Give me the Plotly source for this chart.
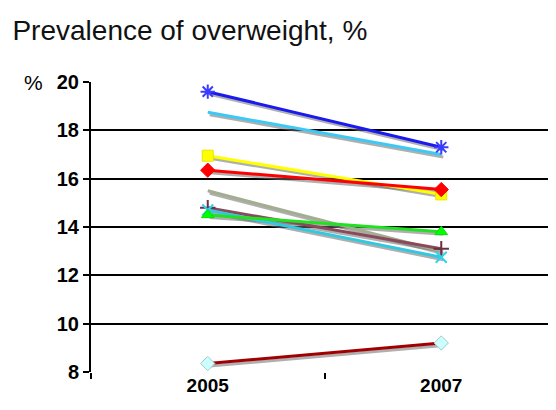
import plotly.graph_objects as go

# ---- data ----
years = ["2005", "2007"]
x_pos = [0, 1]
blue = [19.6, 17.3]
cyan = [18.75, 17.0]
yellow = [16.95, 15.35]
red = [16.35, 15.55]
sage = [15.5, 13.0]
maroon = [14.8, 13.1]
teal = [14.7, 12.75]
green = [14.5, 13.8]
darkred = [8.35, 9.2]
y_ticks = [8, 10, 12, 14, 16, 18, 20]

W, H = 556, 410
ML, MR, MT, MB = 83, 6, 74, 46
XR = [-0.5, 1.5]
YR = [8, 20]
px_x = (XR[1] - XR[0]) / (W - ML - MR)
px_y = (YR[1] - YR[0]) / (H - MT - MB)

series = [
    # values, line color, marker symbol, marker color, marker size, marker line color
    (sage, "#A3AD90", None, None, 0, None),
    (cyan, "#3DC8F5", None, None, 0, None),
    (blue, "#1A1AF0", "asterisk-open", "#3B3BFF", 12, "#3B3BFF"),
    (yellow, "#FFFF00", "square", "#FFFF00", 11, "#E6E600"),
    (red, "#FF0000", "diamond", "#FF0000", 11, "#FF0000"),
    (maroon, "#8A4A5A", "cross-thin-open", "#6B3040", 11, "#6B3040"),
    (teal, "#33C8E0", "x-thin-open", "#2FD0F0", 11, "#2FD0F0"),
    (green, "#22E022", "triangle-up", "#00FF00", 11, "#00E000"),
    (darkred, "#A00000", "diamond", "#CCFFFF", 11, "#A8C8C8"),
]

fig = go.Figure()

# shadows
for vals, lc, sym, mc, ms, mlc in series:
    fig.add_trace(go.Scatter(
        x=[v + 2 * px_x for v in x_pos], y=[v - 2.5 * px_y for v in vals],
        mode="lines", line=dict(color="rgba(110,110,110,0.55)", width=3),
        hoverinfo="skip", showlegend=False))

for vals, lc, sym, mc, ms, mlc in series:
    if sym is None:
        fig.add_trace(go.Scatter(x=x_pos, y=vals, mode="lines",
                                 line=dict(color=lc, width=3), showlegend=False))
    else:
        open_sym = sym.endswith("-open")
        fig.add_trace(go.Scatter(
            x=x_pos, y=vals, mode="lines+markers",
            line=dict(color=lc, width=3),
            marker=dict(symbol=sym, size=ms, color=mc,
                        line=dict(color=mlc, width=2 if open_sym else 1)),
            showlegend=False))

fig.update_layout(
    width=W, height=H,
    margin=dict(l=ML, r=MR, t=MT, b=MB),
    paper_bgcolor="white", plot_bgcolor="white",
    title=dict(text="Prevalence of overweight, %", x=0.008, xanchor="left",
               xref="container", y=0.945, yanchor="middle", yref="container",
               font=dict(family="Arial, Liberation Sans", size=28, color="#111111")),
    font=dict(family="Arial, Liberation Sans", color="black"),
)

fig.update_xaxes(
    range=XR, tickvals=x_pos, ticktext=years, ticks="", showgrid=False,
    zeroline=False, showline=False,
    tickfont=dict(family="Arial, Liberation Sans", size=19, color="black", weight="bold"),
    minor=dict(tickmode="array", tickvals=[-0.5, 0.5, 1.5], ticks="outside",
               ticklen=6, tickwidth=2, tickcolor="black", showgrid=False),
)
fig.update_yaxes(
    range=YR, tickvals=y_ticks, ticks="outside", ticklen=6, tickwidth=2,
    tickcolor="black", showline=True, linecolor="black", linewidth=2,
    showgrid=True, gridcolor="black", gridwidth=2, zeroline=False,
    tickfont=dict(family="Arial, Liberation Sans", size=20, color="black", weight="bold"),
)

fig.add_annotation(text="%", xref="paper", yref="y", x=0, y=20, xshift=-46,
                   xanchor="right", yanchor="middle", showarrow=False,
                   font=dict(family="Arial, Liberation Sans", size=21, color="black"))

fig.write_html("out.html")
